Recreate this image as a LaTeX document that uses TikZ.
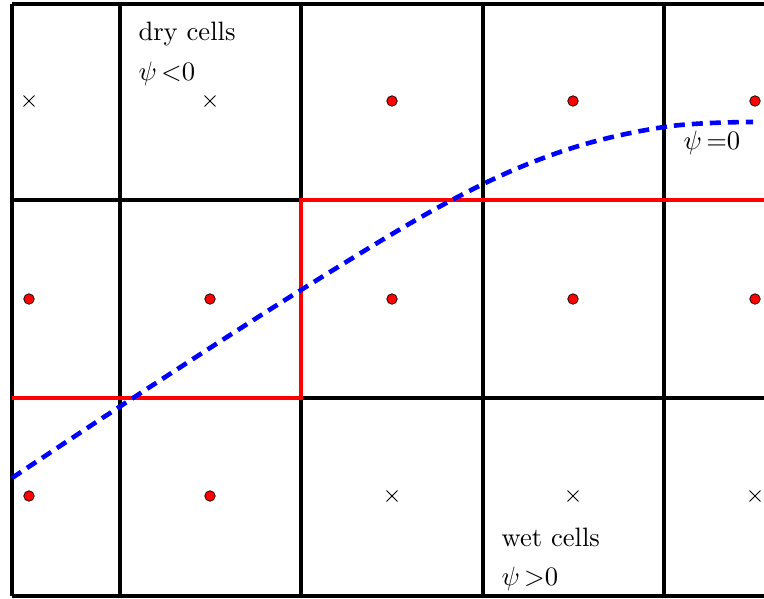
\documentclass[tikz,border=0pt]{standalone}
\usetikzlibrary{shapes.misc}
\begin{document}
\begin{tikzpicture}[x=1pt,y=-1pt,
  gridline/.style={line width=4.5pt,black},
  redline/.style={line width=4.2pt,red},
  wetdot/.style={circle,fill=red,draw=black,line width=0.7pt,minimum size=10.5pt,inner sep=0pt},
  drycross/.style={cross out,draw=black,line width=0.9pt,minimum size=10pt,inner sep=0pt},
  lbl/.style={anchor=base west,inner sep=0pt,scale=2.66},
  levelset/.style={blue,line width=4.6pt,dash pattern=on 11pt off 7pt}]
\useasboundingbox (0,0) rectangle (764,599);
\fill[white] (0,0) rectangle (764,599);
\begin{scope}
\clip (0,0) rectangle (764,599);
% grid
\draw[gridline] (12,4) -- (800,4);
\draw[gridline] (12,200) -- (800,200);
\draw[gridline] (12,398) -- (800,398);
\draw[gridline] (12,596) -- (800,596);
\draw[gridline] (12,4) -- (12,596);
\draw[gridline] (120,4) -- (120,596);
\draw[gridline] (301,4) -- (301,596);
\draw[gridline] (483,4) -- (483,596);
\draw[gridline] (664,4) -- (664,596);
% interface cells boundary
\draw[redline] (12,398) -- (301,398) -- (301,200) -- (800,200);
% cell centres
\node[drycross] (c11) at (29,101) {};
\node[drycross] (c12) at (210,101) {};
\node[wetdot] (c13) at (392,101) {};
\node[wetdot] (c14) at (573,101) {};
\node[wetdot] (c15) at (755,101) {};
\node[wetdot] (c21) at (29,299) {};
\node[wetdot] (c22) at (210,299) {};
\node[wetdot] (c23) at (392,299) {};
\node[wetdot] (c24) at (573,299) {};
\node[wetdot] (c25) at (755,299) {};
\node[wetdot] (c31) at (29,496) {};
\node[wetdot] (c32) at (210,496) {};
\node[drycross] (c33) at (392,496) {};
\node[drycross] (c34) at (573,496) {};
\node[drycross] (c35) at (755,496) {};
% level set psi = 0
\draw[levelset] plot[smooth,tension=0.6] coordinates {(12,478) (133,398) (301,290) (450,201) (560,152) (664,127) (753,122)};
\end{scope}
% labels
\node[lbl] (dry) at (138,41) {dry cells};
\node[lbl] (dryp) at (138,81) {$\psi\,{<}0$};
\node[lbl] (zero) at (683,150) {$\psi\,{=}0$};
\node[lbl] (wet) at (501,546) {wet cells};
\node[lbl] (wetp) at (501,585) {$\psi\,{>}0$};
\end{tikzpicture}
\end{document}
